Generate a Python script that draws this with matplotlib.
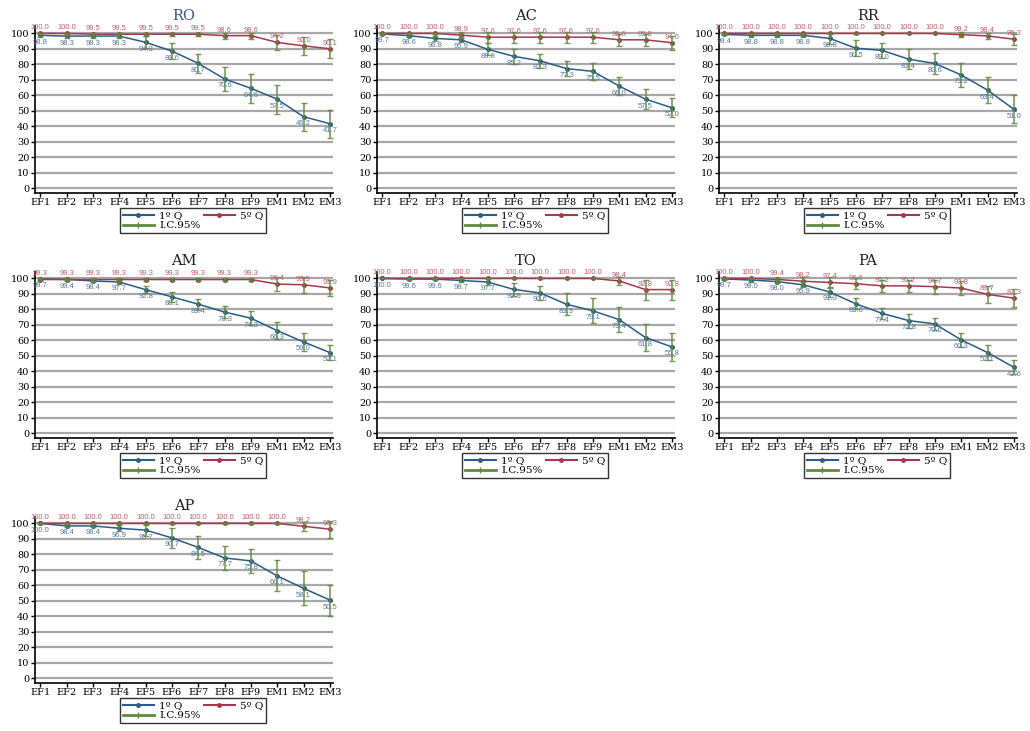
import matplotlib.pyplot as plt
from matplotlib.lines import Line2D

stages = ['EF1', 'EF2', 'EF3', 'EF4', 'EF5', 'EF6', 'EF7', 'EF8', 'EF9', 'EM1', 'EM2', 'EM3']
regions = ['RO', 'AC', 'RR', 'AM', 'TO', 'PA', 'AP']

# 1st quintile
q1 = {
    'RO': [98.8, 98.3, 98.3, 98.3, 94.3, 88.6, 80.7, 70.6, 64.6, 57.5, 46.2, 41.7],
    'AC': [99.7, 98.6, 96.8, 95.9, 89.8, 85.2, 82.3, 77.3, 75.5, 66.0, 57.5, 52.0],
    'RR': [99.4, 98.8, 98.8, 98.8, 96.8, 90.5, 89.0, 83.4, 80.6, 73.2, 63.4, 51.0],
    'AM': [99.7, 99.4, 98.4, 97.7, 92.8, 88.1, 83.4, 78.3, 74.3, 66.3, 59.0, 52.1],
    'TO': [100.0, 99.6, 99.6, 98.7, 97.7, 92.9, 90.6, 83.3, 79.1, 73.4, 61.8, 55.8],
    'PA': [99.7, 99.0, 98.0, 95.9, 91.3, 83.6, 77.4, 72.8, 70.6, 60.3, 52.1, 42.6],
    'AP': [100.0, 98.4, 98.4, 96.9, 95.7, 90.7, 84.5, 77.7, 75.8, 66.1, 58.1, 50.5],
}
# 5th quintile
q5 = {
    'RO': [100.0, 100.0, 99.5, 99.5, 99.5, 99.5, 99.5, 98.6, 98.6, 94.2, 92.0, 90.1],
    'AC': [100.0, 100.0, 100.0, 98.9, 97.6, 97.6, 97.6, 97.6, 97.6, 95.9, 95.9, 94.0],
    'RR': [100.0, 100.0, 100.0, 100.0, 100.0, 100.0, 100.0, 100.0, 100.0, 99.2, 98.4, 96.3],
    'AM': [99.3, 99.3, 99.3, 99.3, 99.3, 99.3, 99.3, 99.3, 99.3, 96.4, 95.9, 93.9],
    'TO': [100.0, 100.0, 100.0, 100.0, 100.0, 100.0, 100.0, 100.0, 100.0, 98.4, 92.8, 92.8],
    'PA': [100.0, 100.0, 99.4, 98.2, 97.4, 96.6, 95.2, 95.2, 94.7, 93.8, 89.7, 87.3],
    'AP': [100.0, 100.0, 100.0, 100.0, 100.0, 100.0, 100.0, 100.0, 100.0, 100.0, 98.2, 96.3],
}
# 95% CI half widths
q1_ci = {
    'RO': [1.0, 1.5, 1.5, 1.5, 4.0, 5.0, 6.0, 8.0, 9.5, 9.5, 9.0, 9.0],
    'AC': [0.5, 1.0, 1.5, 1.5, 4.0, 5.0, 4.5, 5.0, 5.5, 6.0, 6.5, 6.0],
    'RR': [0.5, 1.0, 1.0, 1.0, 3.5, 5.0, 5.0, 6.5, 7.0, 7.5, 8.5, 9.0],
    'AM': [0.5, 0.5, 1.0, 1.5, 2.5, 3.0, 3.5, 4.0, 4.5, 5.5, 6.0, 5.0],
    'TO': [0.0, 0.5, 0.5, 1.0, 2.0, 4.0, 4.5, 7.0, 8.0, 8.0, 9.0, 9.0],
    'PA': [0.5, 1.0, 1.0, 1.5, 3.0, 3.5, 3.5, 4.5, 4.0, 4.5, 5.0, 4.5],
    'AP': [0.0, 1.0, 1.0, 2.0, 3.5, 6.5, 7.5, 7.5, 8.0, 10.0, 11.0, 10.0],
}
q5_ci = {
    'RO': [0.5, 0.5, 1.0, 1.0, 1.0, 1.0, 1.0, 2.0, 2.0, 5.0, 6.0, 6.0],
    'AC': [0.5, 0.5, 0.5, 2.0, 3.5, 3.5, 3.5, 3.5, 3.5, 4.0, 4.0, 4.5],
    'RR': [0.5, 0.5, 0.5, 0.5, 0.5, 0.5, 0.0, 0.0, 0.0, 1.5, 2.0, 3.5],
    'AM': [1.0, 1.0, 1.0, 1.0, 1.0, 1.0, 1.0, 1.0, 1.0, 4.5, 5.0, 5.0],
    'TO': [0.0, 0.0, 0.0, 0.0, 0.0, 0.0, 0.0, 0.0, 0.0, 2.5, 6.5, 6.5],
    'PA': [0.5, 0.5, 1.0, 3.0, 3.5, 3.5, 4.0, 4.0, 4.5, 4.5, 5.5, 6.0],
    'AP': [0.5, 0.5, 0.5, 0.5, 0.5, 0.5, 0.5, 0.5, 0.5, 0.5, 3.0, 5.5],
}

BLUE = '#2b5d88'
RED = '#a33a4c'
GREEN = '#5e8a3e'
BLUE_TXT = '#56799f'
RED_TXT = '#c0606c'
serif = 'DejaVu Serif'

W, H = 1030, 731
fig = plt.figure(figsize=(W / 100, H / 100), dpi=100)

col_left = [35, 377, 719]
row_bottom = [192.5, 437.5, 682.5]
ax_w, ax_h = 298, 166

x = list(range(len(stages)))

for k, reg in enumerate(regions):
    r, c = divmod(k, 3)
    ax = fig.add_axes([col_left[c] / W, (H - row_bottom[r]) / H, ax_w / W, ax_h / H])

    ax.set_ylim(-2.8, 104.5)
    ax.set_xlim(-0.2, 11.12)
    ax.set_yticks(range(0, 101, 10))
    ax.set_xticks(x)
    ax.set_xticklabels(stages)
    ax.grid(axis='y', color='#a8a8a8', linewidth=1.6)
    ax.set_axisbelow(True)
    for s in ['top', 'right']:
        ax.spines[s].set_visible(False)
    for s in ['left', 'bottom']:
        ax.spines[s].set_linewidth(1.2)
    ax.tick_params(axis='both', labelsize=7, length=3, width=1, pad=1)
    for lab in ax.get_xticklabels() + ax.get_yticklabels():
        lab.set_fontfamily(serif)

    ax.plot(x, q1[reg], color=BLUE, lw=1.1, marker='o', ms=2.5, zorder=3)
    ax.plot(x, q5[reg], color=RED, lw=1.1, marker='o', ms=2.5, zorder=3)
    ax.errorbar(x, q1[reg], yerr=q1_ci[reg], fmt='none', ecolor=GREEN,
                elinewidth=1.2, capsize=2.5, capthick=1, alpha=0.85, zorder=4)
    ax.errorbar(x, q5[reg], yerr=q5_ci[reg], fmt='none', ecolor=GREEN,
                elinewidth=1.2, capsize=2.5, capthick=1, alpha=0.85, zorder=4)

    for i in x:
        ax.annotate(f'{q1[reg][i]:.1f}', (i, q1[reg][i]), xytext=(0, -2.5),
                    textcoords='offset points', ha='center', va='top',
                    fontsize=5.5, color=BLUE_TXT, family='Liberation Sans', zorder=5)
        ax.annotate(f'{q5[reg][i]:.1f}', (i, q5[reg][i]), xytext=(0, 1.5),
                    textcoords='offset points', ha='center', va='bottom',
                    fontsize=5.5, color=RED_TXT, family='Liberation Sans', zorder=5)

    ax.set_title(reg, fontsize=10.5, family=serif, pad=5,
                 color='#34568a' if reg == 'RO' else '#222222')

    # handles ordered so the two quintiles share the first row
    h_q1 = Line2D([], [], color=BLUE, lw=1.5, marker='o', ms=2.5)
    h_q5 = Line2D([], [], color=RED, lw=1.5, marker='o', ms=2.5)
    h_ci = Line2D([], [], color=GREEN, lw=2, marker='|', ms=5, markevery=[0, -1])
    leg = ax.legend([h_q1, h_ci, h_q5], ['1º Q', 'I.C.95%', '5º Q'], ncol=2,
                    loc='upper center', bbox_to_anchor=(0.53, -0.095),
                    frameon=True, fancybox=False, edgecolor='black',
                    prop={'family': serif, 'size': 7.5}, handlelength=3.0,
                    handletextpad=0.5, columnspacing=0.3, borderpad=0.25,
                    labelspacing=0.1, borderaxespad=0)
    leg.get_frame().set_linewidth(1.0)

fig.savefig('out.png', dpi=100)
